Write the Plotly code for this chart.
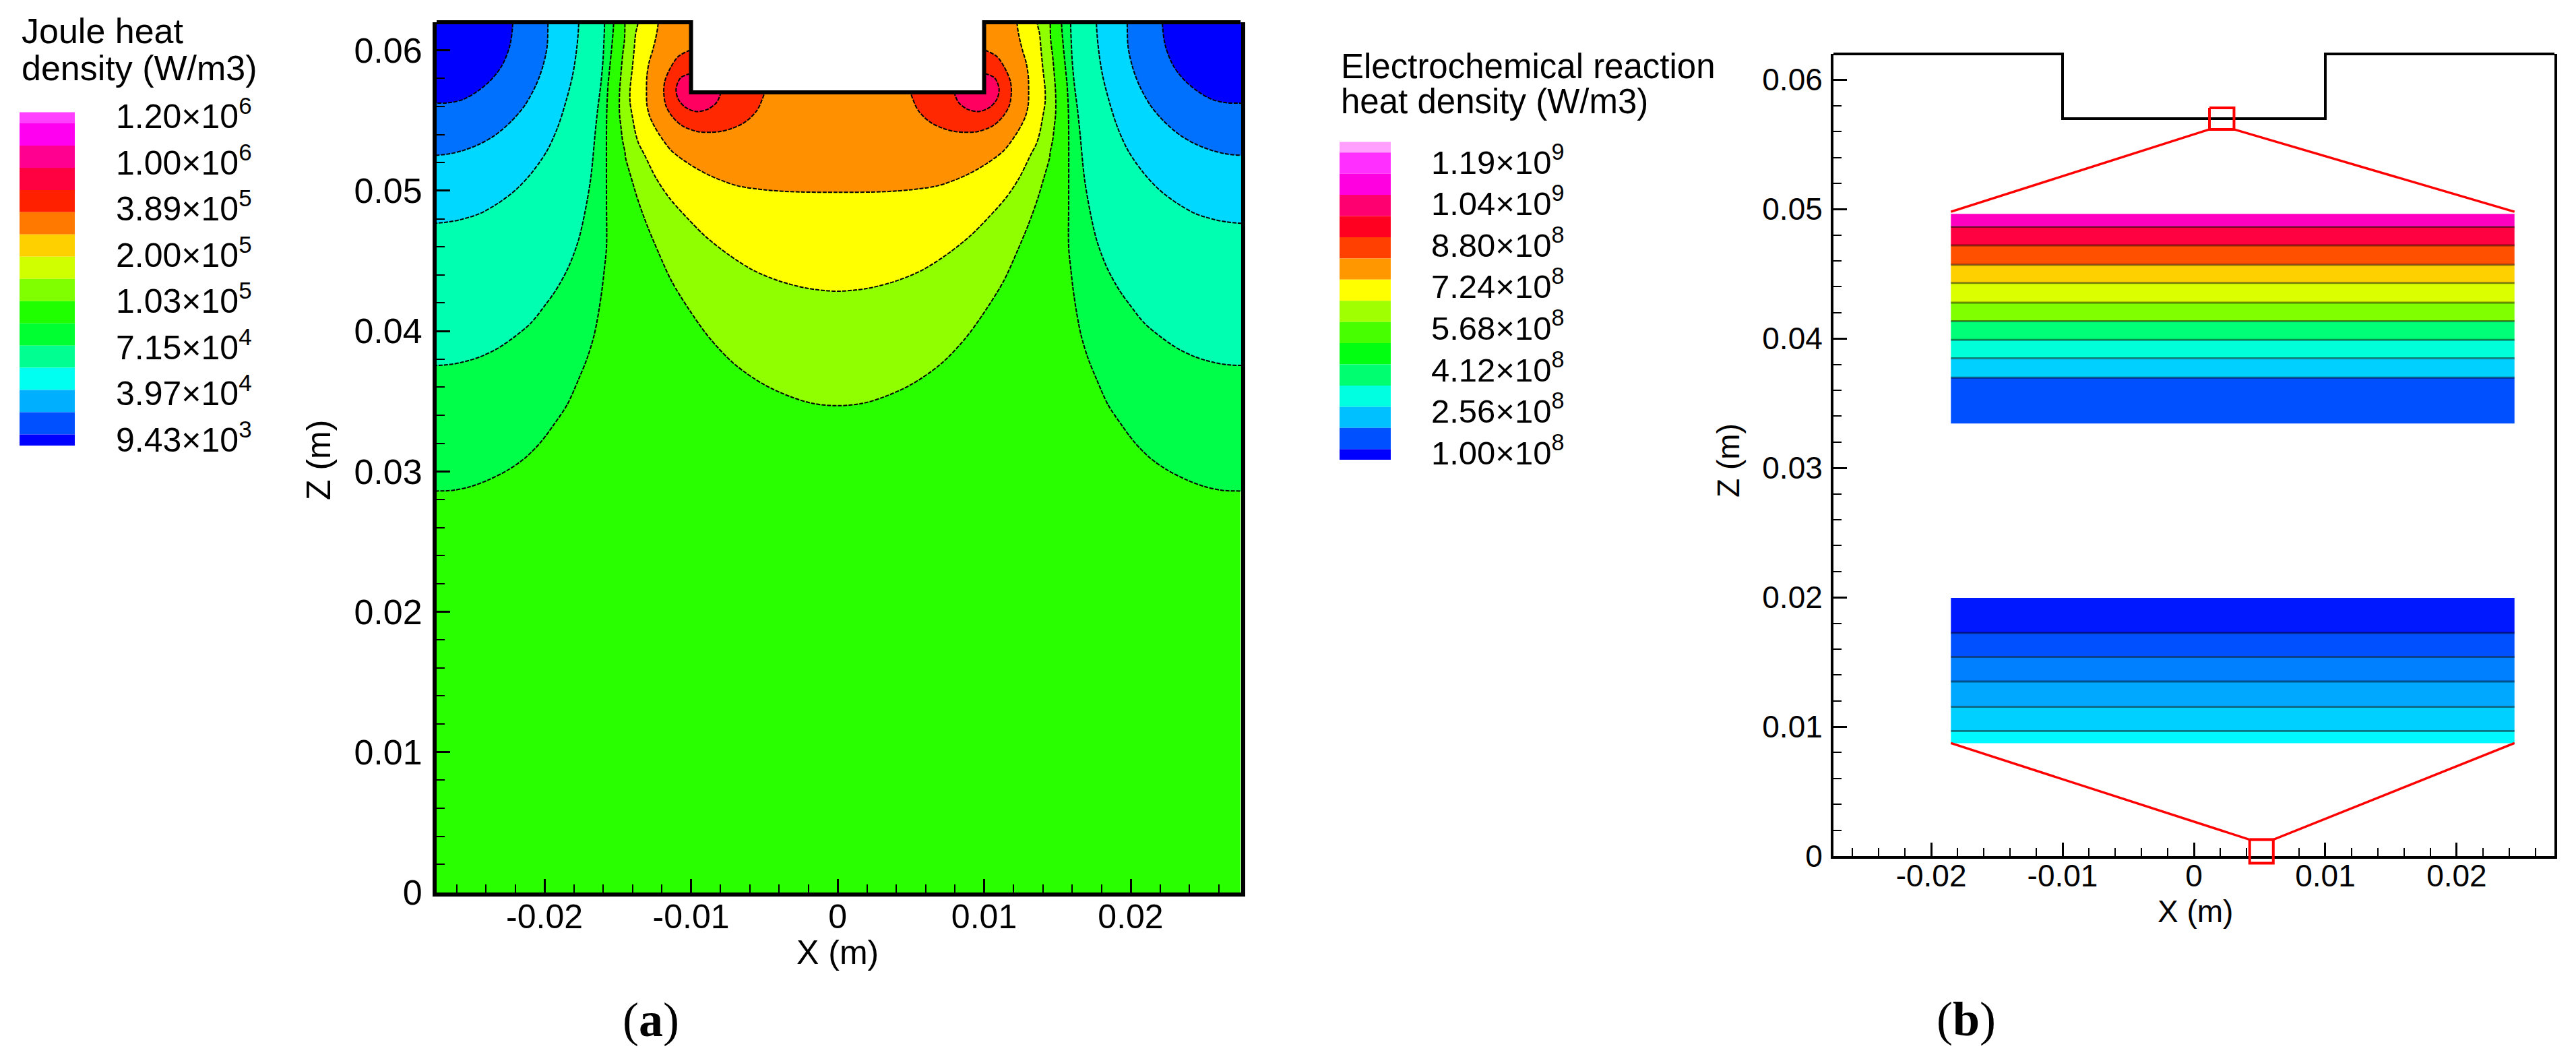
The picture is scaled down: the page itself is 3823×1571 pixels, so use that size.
import plotly.graph_objects as go

W, H = 3823, 1571
FONT = "Liberation Sans"

# ---------- panel (a): contour curves, left half, (x mm, z mm) ----------
A_x = [-22.16, -22.36, -22.9, -23.66, -24.58, -25.5, -26.42, -27.5]
A_z = [62, 60.36, 58.92, 57.88, 57.08, 56.52, 56.28, 56.23]
B_x = [-19.76, -19.83, -20.14, -20.6, -21.37, -22.29, -23.36, -24.43, -25.5, -26.42, -27.5]
B_z = [62, 60.2, 58.76, 57.48, 56.04, 54.92, 53.96, 53.32, 52.88, 52.64, 52.52]
C_x = [-17.66, -17.81, -18.07, -18.45, -19.07, -19.83, -20.9, -21.98, -23.2, -24.43, -25.65, -26.58, -27.5]
C_z = [62, 60.04, 58.28, 56.68, 54.6, 52.84, 51.24, 50.04, 49.08, 48.36, 47.96, 47.77, 47.68]
D_x = [-15.9, -15.95, -16.0, -16.15, -16.38, -16.54, -16.84, -17.23, -17.69, -18.38, -19.22, -19.99, -20.9, -21.98, -23.2, -24.43, -25.65, -26.58, -27.5]
D_z = [62, 60.5, 59.4, 57.64, 55.72, 54.12, 50.92, 48.52, 46.44, 44.52, 42.92, 41.8, 40.6, 39.64, 38.76, 38.15, 37.77, 37.6, 37.55]
E_x = [-15.28, -15.39, -15.54, -15.66, -15.74, -15.77, -15.77, -15.77, -15.92, -16.08, -16.31, -16.61, -17.07, -17.69, -18.45, -19.37, -20.29, -21.37, -22.59, -23.82, -25.04, -26.27, -27.5]
E_z = [62, 60.44, 58.84, 57.56, 55.96, 54.36, 49.16, 45.96, 44.36, 42.92, 41.32, 39.72, 38.12, 36.52, 34.76, 33.32, 32.04, 30.92, 30.04, 29.4, 28.92, 28.65, 28.6]
F_x = [-14.51, -14.54, -14.67, -14.78, -14.88, -14.88, -14.78, -14.67, -14.51, -14.47, -14.08, -13.62, -13.01, -12.24, -11.33, -10.1, -8.72, -7.03, -5.04, -3.2, -1.67, 0]
F_z = [62, 60.76, 59.64, 58.36, 56.92, 55.48, 54.52, 53.56, 52.76, 52.36, 50.92, 49.32, 47.56, 45.64, 43.56, 41.48, 39.48, 37.64, 36.2, 35.32, 34.84, 34.68]
G_x = [-13.62, -13.78, -13.89, -14.01, -14.16, -14.16, -14.01, -13.81, -13.59, -13.16, -12.4, -11.48, -10.25, -9.03, -7.49, -5.81, -3.97, -1.98, 0]
G_z = [62, 61.2, 59.96, 58.68, 57.24, 56.28, 55.32, 54.2, 53.4, 52.52, 50.92, 49.48, 48.04, 46.76, 45.48, 44.36, 43.56, 43.03, 42.84]
H_x = [-12.24, -12.4, -12.63, -12.86, -13.01, -13.04, -13.01, -12.83, -12.55, -12.09, -11.33, -10.1, -8.72, -6.88, -5.04, -3.2, 0]
H_z = [62, 60.92, 59.96, 59.16, 58.2, 57.08, 56.12, 55.32, 54.68, 53.88, 52.84, 51.88, 51.08, 50.36, 50.07, 49.93, 49.88]
I_x = [-10, -10.87, -11.4, -11.79, -11.86, -11.71, -11.25, -10.56, -9.49, -8.11, -7.19, -6.27, -5.5, -4.97]
I_z = [60.04, 59.56, 58.76, 57.8, 57.0, 56.04, 55.24, 54.6, 54.2, 54.2, 54.44, 54.92, 55.72, 57]
J_x = [-10, -10.71, -11.02, -10.87, -10.41, -9.64, -8.87, -8.26, -7.95]
J_z = [58.36, 58.04, 57.24, 56.52, 55.96, 55.64, 55.8, 56.28, 57]

outline_x = [-27.5, -10, -10, 10, 10, 27.5]
outline_z = [62, 62, 57, 57, 62, 62]
box_x = [-27.5, -27.5, -10, -10, 10, 10, 27.5, 27.5]
box_z = [0, 62, 62, 57, 57, 62, 62, 0]
trench_x = [-10, 10, 10, -10]
trench_z = [57, 57, 70, 70]

BASE_GREEN = "#2aff00"
side_contours = [("E", E_x, E_z, "#00ff48"), ("D", D_x, D_z, "#00ffb0"),
                 ("C", C_x, C_z, "#00d8ff"), ("B", B_x, B_z, "#0070ff"),
                 ("A", A_x, A_z, "#0000ff")]
centre_contours = [("F", F_x, F_z, "#90ff00"), ("G", G_x, G_z, "#ffff00"), ("H", H_x, H_z, "#ff9000")]
lobe_contours = [("I", I_x, I_z, "#ff2800"), ("J", J_x, J_z, "#ff0060")]

# ---------- panel (b): bands (z mm), x extent in mm ----------
band_x = [-18.5, 24.4]
upper_edges = [49.64, 48.64, 47.2, 45.7, 44.3, 42.77, 41.34, 39.9, 38.47, 36.98, 33.43]
upper_colors = ["#ff00c0", "#ff0040", "#ff5000", "#ffd000", "#dcff00", "#80ff00", "#00ff78", "#00ffd8", "#00d0ff", "#0050ff"]
lower_edges = [19.95, 17.25, 15.4, 13.5, 11.54, 9.67, 8.73]
lower_colors = ["#0018ff", "#0050ff", "#0080ff", "#00a8ff", "#00d0ff", "#00f8ff"]
top_box_x = [1.18, 3.05, 3.05, 1.18, 1.18]
top_box_z = [57.83, 57.83, 56.17, 56.17, 57.83]
top_funnel_x = [-18.5, 1.18, 3.05, 24.4]
top_funnel_z = [49.8, 56.17, 56.17, 49.8]
bot_box_x = [4.24, 6.04, 6.04, 4.24, 4.24]
bot_box_z = [1.27, 1.27, -0.55, -0.55, 1.27]
bot_funnel_x = [-18.5, 4.24, 6.04, 24.4]
bot_funnel_z = [8.73, 1.27, 1.27, 8.73]

# ---------- axes and legends ----------
x_tickvals = [-0.02, -0.01, 0, 0.01, 0.02]
x_ticktext = ["-0.02", "-0.01", "0", "0.01", "0.02"]
z_tickvals = [0, 0.01, 0.02, 0.03, 0.04, 0.05, 0.06]
z_ticktext = ["0", "0.01", "0.02", "0.03", "0.04", "0.05", "0.06"]

joule_title = ["Joule heat", "density (W/m3)"]
joule_labels = [("1.20", 6), ("1.00", 6), ("3.89", 5), ("2.00", 5), ("1.03", 5), ("7.15", 4), ("3.97", 4), ("9.43", 3)]
joule_colors = ["#ff40ff", "#ff00f0", "#ff0090", "#ff0040", "#ff2000", "#ff7800", "#ffd000", "#d0ff00",
                "#80ff00", "#20ff00", "#00ff30", "#00ff90", "#00fff0", "#00b0ff", "#0050ff", "#0000ff"]
echem_title = ["Electrochemical reaction", "heat density (W/m3)"]
echem_labels = [("1.19", 9), ("1.04", 9), ("8.80", 8), ("7.24", 8), ("5.68", 8), ("4.12", 8), ("2.56", 8), ("1.00", 8)]
echem_colors = ["#ffa0ff", "#ff30ff", "#ff00e0", "#ff0070", "#ff0020", "#ff4000", "#ff9800", "#ffff00",
                "#a0ff00", "#48ff00", "#00ff10", "#00ff70", "#00ffe0", "#00c0ff", "#0050ff", "#0000ff"]


def px(x):
    return x / W


def py(y):
    return 1 - y / H


def mm(v):
    return [a / 1000 for a in v]


fig = go.Figure()


def poly(x, z, color, xa, ya):
    fig.add_trace(go.Scatter(x=mm(x), y=mm(z), mode="lines", fill="toself", fillcolor=color,
                             line=dict(width=0), xaxis=xa, yaxis=ya, hoverinfo="skip", showlegend=False))


def region(x, z, color):
    # spline-smoothed contour, its closing edge lies outside the visible domain
    fig.add_trace(go.Scatter(x=mm(x), y=mm(z), mode="lines", fill="toself", fillcolor=color,
                             line=dict(color="black", width=2, dash="6px,2px", shape="spline", smoothing=0.9),
                             xaxis="x", yaxis="y", hoverinfo="skip", showlegend=False))


def curve(x, z, xa, ya, color="black", width=2, dash="solid"):
    fig.add_trace(go.Scatter(x=mm(x), y=mm(z), mode="lines", line=dict(color=color, width=width, dash=dash),
                             xaxis=xa, yaxis=ya, hoverinfo="skip", showlegend=False))


def mirror(v):
    return [-a for a in v]


# panel (a)
poly(box_x, box_z, BASE_GREEN, "x", "y")
for name, cx, cz, col in side_contours:
    ex = [cx[0]] + cx + [-40, -40]
    ez = [70] + cz + [cz[-1], 70]
    region(ex, ez, col)
    region(mirror(ex), ez, col)
for name, cx, cz, col in centre_contours:
    region([cx[0]] + cx + mirror(cx[-2::-1]) + [-cx[0]], [70] + cz + cz[-2::-1] + [70], col)
for name, cx, cz, col in lobe_contours:
    ex = [cx[0] + 1] + cx + [cx[-1] + 0.4, cx[-1] + 0.4]
    ez = [cz[0] + 0.3] + cz + [58.5, 61]
    region(ex, ez, col)
    region(mirror(ex), ez, col)
poly(trench_x, trench_z, "white", "x", "y")
curve(outline_x, outline_z, "x", "y4", width=6)

# panel (b)
for i, col in enumerate(upper_colors):
    poly([band_x[0], band_x[1], band_x[1], band_x[0]],
         [upper_edges[i], upper_edges[i], upper_edges[i + 1], upper_edges[i + 1]], col, "x2", "y2")
for i, col in enumerate(lower_colors):
    poly([band_x[0], band_x[1], band_x[1], band_x[0]],
         [lower_edges[i], lower_edges[i], lower_edges[i + 1], lower_edges[i + 1]], col, "x2", "y2")
for e in upper_edges[1:-1] + lower_edges[1:-1]:
    curve(band_x, [e, e], "x2", "y2", color="rgba(0,0,0,0.45)", width=3)
curve(outline_x, outline_z, "x2", "y3", width=4)
curve(top_box_x, top_box_z, "x2", "y3", color="#ff0000", width=4)
curve(top_funnel_x, top_funnel_z, "x2", "y3", color="#ff0000", width=3.5)
curve(bot_box_x, bot_box_z, "x2", "y3", color="#ff0000", width=4)
curve(bot_funnel_x, bot_funnel_z, "x2", "y3", color="#ff0000", width=3.5)


def axis(dom, rng, vals, text, size, lw, labelgap, anchor, mirror_line):
    return dict(domain=dom, range=rng, tickmode="array", tickvals=vals, ticktext=text,
                ticks="inside", ticklen=20, tickwidth=3, tickcolor="black", automargin=False,
                showline=True, linecolor="black", linewidth=lw, mirror=mirror_line,
                showgrid=False, zeroline=False, anchor=anchor, ticklabelstandoff=labelgap,
                tickfont=dict(family=FONT, size=size, color="black"),
                minor=dict(dtick=0.002, tick0=0, ticks="inside", ticklen=12, tickwidth=2, tickcolor="black", showgrid=False))


# y pixels per metre of each panel, so the hidden helper axes share the panel's scale
K_A = (1324 - 33) / 0.062
K_B = (1270 - 80) / 0.062

fig.update_layout(
    width=W, height=H, autosize=False, margin=dict(l=0, r=0, t=0, b=0, pad=0),
    paper_bgcolor="white", plot_bgcolor="rgba(0,0,0,0)", showlegend=False,
    xaxis=axis([px(648), px(1842)], [-0.02736, 0.02754], x_tickvals, x_ticktext, 50, 6, -13, "y", False),
    yaxis=axis([py(1324), py(33)], [0, 0.062], z_tickvals, z_ticktext, 52, 6, 5, "x", True),
    xaxis2=axis([px(2721), px(3791)], [-0.02744, 0.02744], x_tickvals, x_ticktext, 46, 4, -14, "y2", False),
    yaxis2=axis([py(1270), py(80)], [0, 0.062], z_tickvals, z_ticktext, 46, 4, 3, "x2", True),
    yaxis3=dict(domain=[py(1270 + 0.002 * K_B), py(1270 - 0.064 * K_B)], range=[-0.002, 0.064], visible=False, automargin=False, anchor="x2"),
    yaxis4=dict(domain=[py(1324), py(1324 - 0.063 * K_A)], range=[0, 0.063], visible=False, automargin=False, anchor="x"),
)

shapes = []
annotations = []


def legend(colors, labels, title, bar_x0, bar_x1, bar_top, bar_bot, label_x, label_top, label_bot, title_x, title_ys, size):
    step = (bar_bot - bar_top) / (len(colors) - 1)
    y = bar_top
    for i, col in enumerate(colors):
        h = step / 2 if i in (0, len(colors) - 1) else step
        shapes.append(dict(type="rect", xref="paper", yref="paper", x0=px(bar_x0), x1=px(bar_x1),
                           y0=py(y + h), y1=py(y), fillcolor=col, line=dict(width=0), layer="above"))
        y += h
    lstep = (label_bot - label_top) / (len(labels) - 1)
    for i, (m, e) in enumerate(labels):
        annotations.append(dict(xref="paper", yref="paper", x=px(label_x), y=py(label_top + i * lstep),
                                xanchor="left", yanchor="middle", showarrow=False,
                                text=f"{m}\u00d710<sup>{e}</sup>",
                                font=dict(family=FONT, size=size, color="black")))
    for t, ty in zip(title, title_ys):
        annotations.append(dict(xref="paper", yref="paper", x=px(title_x), y=py(ty),
                                xanchor="left", yanchor="middle", showarrow=False, text=t,
                                font=dict(family=FONT, size=size + 2, color="black")))


legend(joule_colors, joule_labels, joule_title, 29, 111, 166.5, 661, 170, 169, 649, 30, [46, 101], 50)
legend(echem_colors, echem_labels, echem_title, 1988, 2064, 210.5, 682, 2122, 236.6, 668, 1988, [99, 150], 49)

for t, cx, cy in [("(<b>a</b>)", 966, 1513), ("(<b>b</b>)", 2918, 1512)]:
    annotations.append(dict(xref="paper", yref="paper", x=px(cx), y=py(cy), xanchor="center", yanchor="middle",
                            showarrow=False, text=t, font=dict(family="Liberation Serif", size=72, color="black")))

for t, cx, cy, rot, size in [("X (m)", 1243, 1413, 0, 50), ("Z (m)", 473, 683, -90, 50),
                             ("X (m)", 3258, 1352, 0, 46), ("Z (m)", 2565, 683, -90, 46)]:
    annotations.append(dict(xref="paper", yref="paper", x=px(cx), y=py(cy), xanchor="center", yanchor="middle",
                            showarrow=False, text=t, textangle=rot, font=dict(family=FONT, size=size, color="black")))

fig.update_layout(shapes=shapes, annotations=annotations)
fig.write_html("out.html", post_script="document.body.style.margin='0';", config={"displayModeBar": False})
